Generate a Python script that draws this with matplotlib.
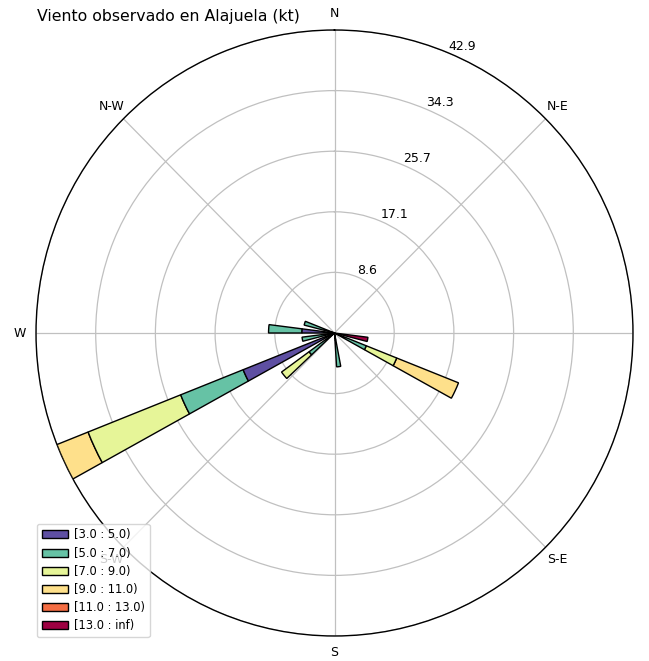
import numpy as np
import matplotlib
matplotlib.use("Agg")
import matplotlib.pyplot as plt
from matplotlib.patches import Patch


# -----------------------------------
#   DATOS (frecuencia %, por sector)
# -----------------------------------
n_sectores = 25
sectores = [7, 8, 12, 16, 17, 18, 19, 20]   # indice de sector (0 = N, sentido horario)

etiquetas_bins = ["[3.0 : 5.0)", "[5.0 : 7.0)", "[7.0 : 9.0)",
                  "[9.0 : 11.0)", "[11.0 : 13.0)", "[13.0 : inf)"]

# una lista por bin de velocidad, un valor por sector
f_3_5   = [0.0, 1.0, 1.0, 0.8, 14.10, 1.0, 4.67, 1.0]
f_5_7   = [0.0, 3.9, 3.8, 3.7,  9.65, 3.7, 4.80, 3.5]
f_7_9   = [0.0, 4.7, 0.0, 4.9, 14.30, 0.0, 0.00, 0.0]
f_9_11  = [0.0, 9.55, 0.0, 0.0, 4.81, 0.0, 0.00, 0.0]
f_11_13 = [0.0, 0.0, 0.0, 0.0, 0.00, 0.0, 0.00, 0.0]
f_13    = [4.84, 0.0, 0.0, 0.0, 0.00, 0.0, 0.00, 0.0]

# la etiqueta E queda fuera del borde de la figura en la original
direcciones = ["", "N-E", "N", "N-W", "W", "S-W", "S", "S-E"]
angulos_dir = [90, 45, 0, 315, 270, 225, 180, 135]

titulo = "Viento observado en Alajuela (kt)"


# -----------------------------------
#   GRAFICO
# -----------------------------------
tabla = np.array([f_3_5, f_5_7, f_7_9, f_9_11, f_11_13, f_13])
colores = plt.get_cmap("Spectral_r")(np.linspace(0, 1, len(etiquetas_bins)))

fig = plt.figure(figsize=(6.49, 6.61), dpi=100)
ax = fig.add_axes([36/649, 25/661, 597/649, 606/661], projection="polar")
ax.set_aspect("auto")
ax.set_theta_zero_location("N")
ax.set_theta_direction(-1)

paso = 2*np.pi/n_sectores
theta = np.array(sectores)*paso
ancho = paso*0.5

base = np.zeros(len(sectores))
for i in range(len(etiquetas_bins)):
    h = tabla[i]
    m = h > 0
    ax.bar(theta[m], h[m], width=ancho, bottom=base[m], color=colores[i],
           edgecolor="black", linewidth=1.0, zorder=3 + len(etiquetas_bins) - i)
    base += h

rmax = base.max()
radios = np.linspace(0, rmax, 6)[1:]
ax.set_ylim(0, rmax)
ax.set_rgrids(radios, labels=["%.1f" % r for r in radios], angle=22.5, fontsize=9)
ax.set_thetagrids(angulos_dir, labels=direcciones, fontsize=9)
ax.tick_params(axis="x", pad=1.5)
ax.grid(True, color="#c0c0c0", linewidth=0.9)
ax.spines["polar"].set_linewidth(1.0)

handles = [Patch(facecolor=colores[i], edgecolor="black", label=etiquetas_bins[i])
           for i in range(len(etiquetas_bins))]
ax.legend(handles=handles, loc="lower left", bbox_to_anchor=(37/649, 24/661),
          bbox_transform=fig.transFigure, borderaxespad=0, fontsize=8.3,
          handlelength=2.3, handletextpad=0.5, labelspacing=0.45)

fig.text(37/649, 1 - 17/661, titulo, ha="left", va="center", fontsize=11.3)

fig.savefig("out.png", dpi=100)
